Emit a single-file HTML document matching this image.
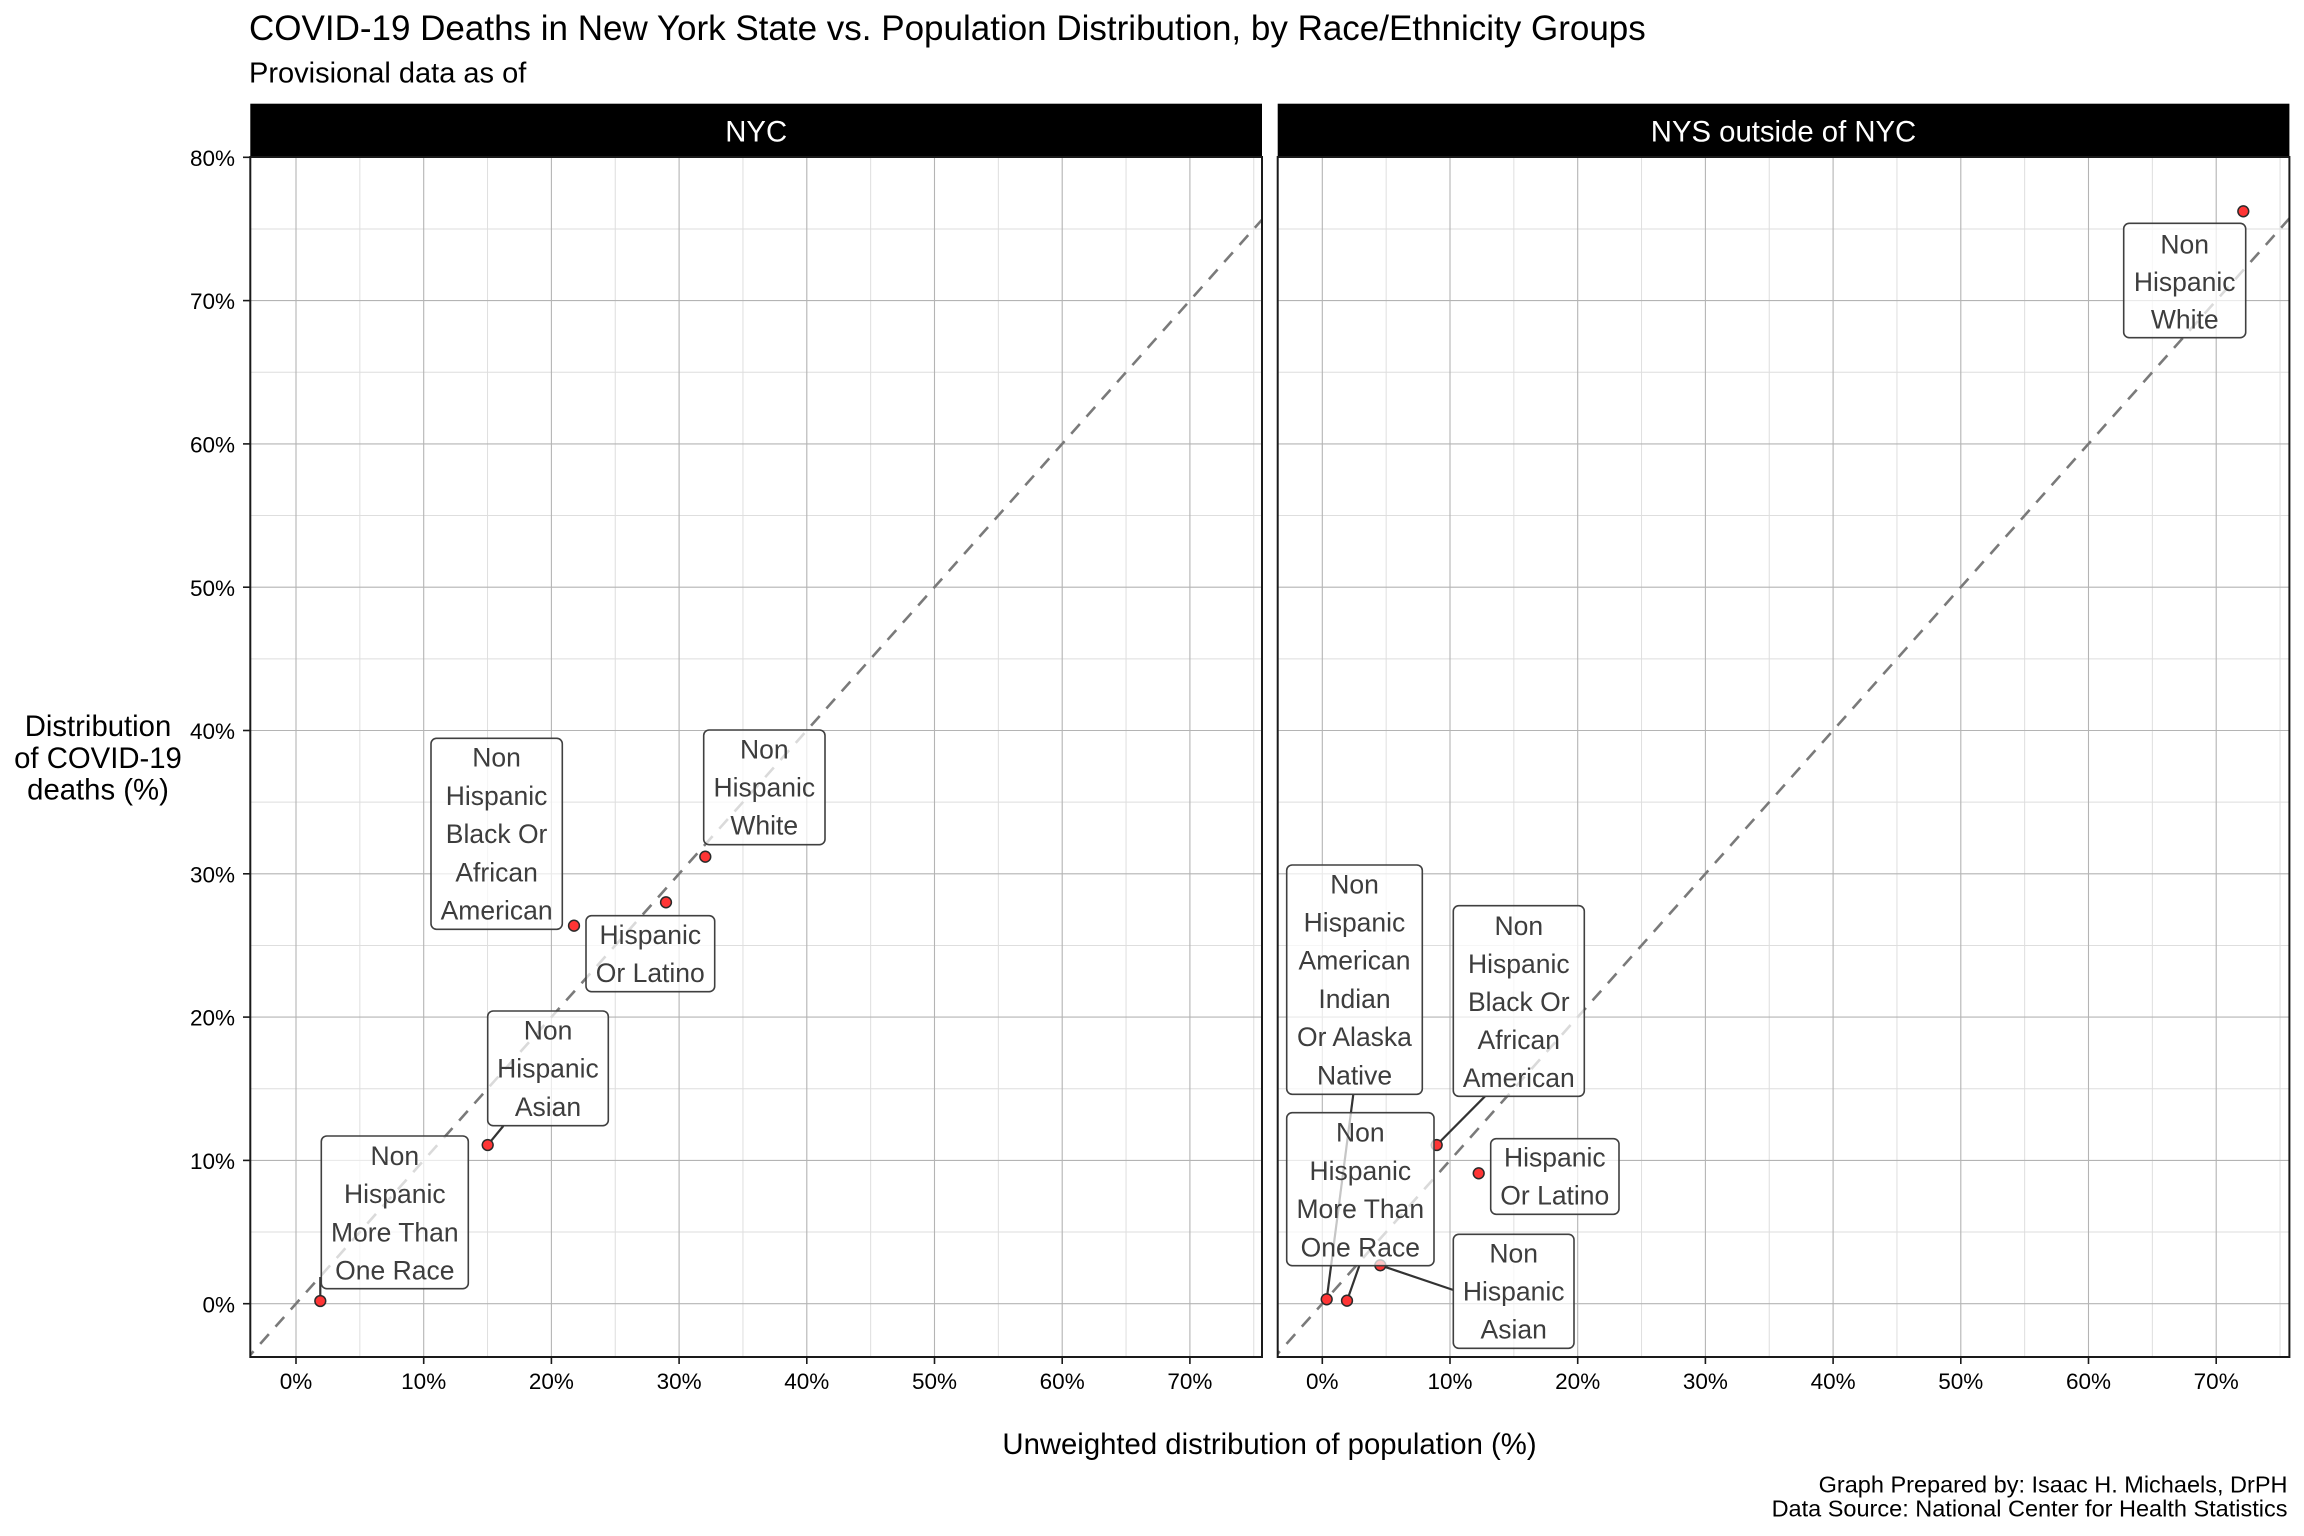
<!DOCTYPE html>
<html>
<head>
<meta charset="utf-8">
<style>
  html, body { margin: 0; padding: 0; background: #ffffff; }
  svg { display: block; }
  text { font-family: "Liberation Sans", Arial, Helvetica, sans-serif; }
  .lbl { font-size: 26.5px; fill: #3d3d3d; text-anchor: middle; }
  .box { fill: #ffffff; fill-opacity: 0.72; stroke: #404040; stroke-width: 1.6; }
  .seg { stroke: #333333; stroke-width: 2.2; fill: none; }
  .pt { fill: #ff3535; stroke: #2a2a2a; stroke-width: 1.5; }
  .gmaj { stroke: #b4b4b4; stroke-width: 1.1; }
  .gmin { stroke: #dedede; stroke-width: 1; }
  .ytick { font-size: 22.5px; fill: #000; text-anchor: end; }
  .xtick { font-size: 22.5px; fill: #000; text-anchor: middle; }
</style>
</head>
<body>
<svg width="2304" height="1536" viewBox="0 0 2304 1536" xmlns="http://www.w3.org/2000/svg">
  <rect x="0" y="0" width="2304" height="1536" fill="#ffffff"/>
  <defs>
    <clipPath id="cl"><rect x="250.3" y="157" width="1011.7" height="1200"/></clipPath>
    <clipPath id="cr"><rect x="1277.7" y="157" width="1011.7" height="1200"/></clipPath>
  </defs>

  <!-- Title / subtitle -->
  <text x="249" y="40" font-size="35px" fill="#000">COVID-19 Deaths in New York State vs. Population Distribution, by Race/Ethnicity Groups</text>
  <text x="249" y="82.7" font-size="29px" fill="#000">Provisional data as of</text>

  <!-- Strips -->
  <rect x="250.3" y="103.7" width="1011.7" height="53.3" fill="#000"/>
  <rect x="1277.7" y="103.7" width="1011.7" height="53.3" fill="#000"/>
  <text x="756.2" y="141.7" font-size="29.3px" fill="#fff" text-anchor="middle">NYC</text>
  <text x="1783.5" y="141.7" font-size="29.3px" fill="#fff" text-anchor="middle">NYS outside of NYC</text>

  <!-- LEFT PANEL -->
  <g clip-path="url(#cl)">
    <g class="gmin">
      <line x1="359.85" y1="157" x2="359.85" y2="1357"/>
      <line x1="487.55" y1="157" x2="487.55" y2="1357"/>
      <line x1="615.25" y1="157" x2="615.25" y2="1357"/>
      <line x1="742.95" y1="157" x2="742.95" y2="1357"/>
      <line x1="870.65" y1="157" x2="870.65" y2="1357"/>
      <line x1="998.35" y1="157" x2="998.35" y2="1357"/>
      <line x1="1126.05" y1="157" x2="1126.05" y2="1357"/>
      <line x1="1253.75" y1="157" x2="1253.75" y2="1357"/>
      <line x1="250" y1="1232.05" x2="1262" y2="1232.05"/>
      <line x1="250" y1="1088.75" x2="1262" y2="1088.75"/>
      <line x1="250" y1="945.45" x2="1262" y2="945.45"/>
      <line x1="250" y1="802.15" x2="1262" y2="802.15"/>
      <line x1="250" y1="658.85" x2="1262" y2="658.85"/>
      <line x1="250" y1="515.55" x2="1262" y2="515.55"/>
      <line x1="250" y1="372.25" x2="1262" y2="372.25"/>
      <line x1="250" y1="228.95" x2="1262" y2="228.95"/>
    </g>
    <g class="gmaj">
      <line x1="296" y1="157" x2="296" y2="1357"/>
      <line x1="423.7" y1="157" x2="423.7" y2="1357"/>
      <line x1="551.4" y1="157" x2="551.4" y2="1357"/>
      <line x1="679.1" y1="157" x2="679.1" y2="1357"/>
      <line x1="806.8" y1="157" x2="806.8" y2="1357"/>
      <line x1="934.5" y1="157" x2="934.5" y2="1357"/>
      <line x1="1062.2" y1="157" x2="1062.2" y2="1357"/>
      <line x1="1189.9" y1="157" x2="1189.9" y2="1357"/>
      <line x1="250" y1="1303.7" x2="1262" y2="1303.7"/>
      <line x1="250" y1="1160.4" x2="1262" y2="1160.4"/>
      <line x1="250" y1="1017.1" x2="1262" y2="1017.1"/>
      <line x1="250" y1="873.8" x2="1262" y2="873.8"/>
      <line x1="250" y1="730.5" x2="1262" y2="730.5"/>
      <line x1="250" y1="587.2" x2="1262" y2="587.2"/>
      <line x1="250" y1="443.9" x2="1262" y2="443.9"/>
      <line x1="250" y1="300.6" x2="1262" y2="300.6"/>
      <line x1="250" y1="157.3" x2="1262" y2="157.3"/>
    </g>
    <line x1="244.9" y1="1361" x2="1266.5" y2="214.6" stroke="#7a7a7a" stroke-width="2.6" stroke-dasharray="13 10"/>

    <line class="seg" x1="487.7" y1="1145" x2="503.3" y2="1126"/>
    <line class="seg" x1="320.3" y1="1301" x2="320.3" y2="1277"/>

    <circle class="pt" cx="574" cy="925.7" r="5.4"/>
    <circle class="pt" cx="666" cy="902.3" r="5.4"/>
    <circle class="pt" cx="705.3" cy="856.7" r="5.4"/>
    <circle class="pt" cx="487.7" cy="1145" r="5.4"/>
    <circle class="pt" cx="320.3" cy="1301" r="5.4"/>

    <rect class="box" x="431" y="738.3" width="131.3" height="191" rx="5.5"/>
    <text class="lbl" x="496.6" y="766.7">Non</text>
    <text class="lbl" x="496.6" y="804.9">Hispanic</text>
    <text class="lbl" x="496.6" y="843.1">Black Or</text>
    <text class="lbl" x="496.6" y="881.3">African</text>
    <text class="lbl" x="496.6" y="919.4">American</text>

    <rect class="box" x="586" y="915.7" width="128.7" height="76" rx="5.5"/>
    <text class="lbl" x="650.3" y="944">Hispanic</text>
    <text class="lbl" x="650.3" y="982">Or Latino</text>

    <rect class="box" x="703.7" y="730" width="121.3" height="114.7" rx="5.5"/>
    <text class="lbl" x="764.3" y="758.3">Non</text>
    <text class="lbl" x="764.3" y="796.5">Hispanic</text>
    <text class="lbl" x="764.3" y="834.6">White</text>

    <rect class="box" x="487.7" y="1011" width="120.6" height="114.7" rx="5.5"/>
    <text class="lbl" x="548" y="1039.3">Non</text>
    <text class="lbl" x="548" y="1077.5">Hispanic</text>
    <text class="lbl" x="548" y="1115.8">Asian</text>

    <rect class="box" x="321.3" y="1136" width="147" height="152.7" rx="5.5"/>
    <text class="lbl" x="394.8" y="1165">Non</text>
    <text class="lbl" x="394.8" y="1203.2">Hispanic</text>
    <text class="lbl" x="394.8" y="1241.4">More Than</text>
    <text class="lbl" x="394.8" y="1279.5">One Race</text>
  </g>
  <rect x="250.3" y="157" width="1011.7" height="1200" fill="none" stroke="#1a1a1a" stroke-width="2"/>

  <!-- RIGHT PANEL -->
  <g clip-path="url(#cr)">
    <g class="gmin">
      <line x1="1386.15" y1="157" x2="1386.15" y2="1357"/>
      <line x1="1513.85" y1="157" x2="1513.85" y2="1357"/>
      <line x1="1641.55" y1="157" x2="1641.55" y2="1357"/>
      <line x1="1769.25" y1="157" x2="1769.25" y2="1357"/>
      <line x1="1896.95" y1="157" x2="1896.95" y2="1357"/>
      <line x1="2024.65" y1="157" x2="2024.65" y2="1357"/>
      <line x1="2152.35" y1="157" x2="2152.35" y2="1357"/>
      <line x1="2280.05" y1="157" x2="2280.05" y2="1357"/>
      <line x1="1277" y1="1232.05" x2="2290" y2="1232.05"/>
      <line x1="1277" y1="1088.75" x2="2290" y2="1088.75"/>
      <line x1="1277" y1="945.45" x2="2290" y2="945.45"/>
      <line x1="1277" y1="802.15" x2="2290" y2="802.15"/>
      <line x1="1277" y1="658.85" x2="2290" y2="658.85"/>
      <line x1="1277" y1="515.55" x2="2290" y2="515.55"/>
      <line x1="1277" y1="372.25" x2="2290" y2="372.25"/>
      <line x1="1277" y1="228.95" x2="2290" y2="228.95"/>
    </g>
    <g class="gmaj">
      <line x1="1322.3" y1="157" x2="1322.3" y2="1357"/>
      <line x1="1450" y1="157" x2="1450" y2="1357"/>
      <line x1="1577.7" y1="157" x2="1577.7" y2="1357"/>
      <line x1="1705.4" y1="157" x2="1705.4" y2="1357"/>
      <line x1="1833.1" y1="157" x2="1833.1" y2="1357"/>
      <line x1="1960.8" y1="157" x2="1960.8" y2="1357"/>
      <line x1="2088.5" y1="157" x2="2088.5" y2="1357"/>
      <line x1="2216.2" y1="157" x2="2216.2" y2="1357"/>
      <line x1="1277" y1="1303.7" x2="2290" y2="1303.7"/>
      <line x1="1277" y1="1160.4" x2="2290" y2="1160.4"/>
      <line x1="1277" y1="1017.1" x2="2290" y2="1017.1"/>
      <line x1="1277" y1="873.8" x2="2290" y2="873.8"/>
      <line x1="1277" y1="730.5" x2="2290" y2="730.5"/>
      <line x1="1277" y1="587.2" x2="2290" y2="587.2"/>
      <line x1="1277" y1="443.9" x2="2290" y2="443.9"/>
      <line x1="1277" y1="300.6" x2="2290" y2="300.6"/>
      <line x1="1277" y1="157.3" x2="2290" y2="157.3"/>
    </g>
    <line x1="1271.2" y1="1361" x2="2292.8" y2="214.6" stroke="#7a7a7a" stroke-width="2.6" stroke-dasharray="13 10"/>

    <line class="seg" x1="1326.7" y1="1299.3" x2="1353.3" y2="1094.3"/>
    <line class="seg" x1="1347" y1="1300.7" x2="1359.3" y2="1265.7"/>
    <line class="seg" x1="1436.7" y1="1145" x2="1485" y2="1096.3"/>
    <line class="seg" x1="1380.3" y1="1265.3" x2="1453.3" y2="1290"/>

    <circle class="pt" cx="1326.7" cy="1299.3" r="5.4"/>
    <circle class="pt" cx="1347" cy="1300.7" r="5.4"/>
    <circle class="pt" cx="1436.7" cy="1145" r="5.4"/>
    <circle class="pt" cx="1478.7" cy="1173.3" r="5.4"/>
    <circle class="pt" cx="1380.3" cy="1265.3" r="5.4"/>
    <circle class="pt" cx="2243.3" cy="211.3" r="5.4"/>

    <rect class="box" x="1286.7" y="865" width="135.6" height="229.3" rx="5.5"/>
    <text class="lbl" x="1354.5" y="893.3">Non</text>
    <text class="lbl" x="1354.5" y="931.5">Hispanic</text>
    <text class="lbl" x="1354.5" y="969.7">American</text>
    <text class="lbl" x="1354.5" y="1007.9">Indian</text>
    <text class="lbl" x="1354.5" y="1046.1">Or Alaska</text>
    <text class="lbl" x="1354.5" y="1084.3">Native</text>

    <rect class="box" x="1286.7" y="1112.7" width="147.3" height="153" rx="5.5"/>
    <text class="lbl" x="1360.3" y="1141.7">Non</text>
    <text class="lbl" x="1360.3" y="1179.9">Hispanic</text>
    <text class="lbl" x="1360.3" y="1218.1">More Than</text>
    <text class="lbl" x="1360.3" y="1256.3">One Race</text>

    <rect class="box" x="1453.3" y="905.7" width="131" height="190.6" rx="5.5"/>
    <text class="lbl" x="1518.8" y="935">Non</text>
    <text class="lbl" x="1518.8" y="973">Hispanic</text>
    <text class="lbl" x="1518.8" y="1011">Black Or</text>
    <text class="lbl" x="1518.8" y="1049">African</text>
    <text class="lbl" x="1518.8" y="1087">American</text>

    <rect class="box" x="1490.7" y="1138.7" width="128.3" height="75.6" rx="5.5"/>
    <text class="lbl" x="1554.8" y="1166.7">Hispanic</text>
    <text class="lbl" x="1554.8" y="1204.5">Or Latino</text>

    <rect class="box" x="1453.3" y="1234.3" width="120.7" height="114" rx="5.5"/>
    <text class="lbl" x="1513.7" y="1262.7">Non</text>
    <text class="lbl" x="1513.7" y="1300.7">Hispanic</text>
    <text class="lbl" x="1513.7" y="1338.6">Asian</text>

    <rect class="box" x="2123.7" y="223.3" width="122" height="114.4" rx="5.5"/>
    <text class="lbl" x="2184.7" y="253.3">Non</text>
    <text class="lbl" x="2184.7" y="291">Hispanic</text>
    <text class="lbl" x="2184.7" y="328.5">White</text>
  </g>
  <rect x="1277.7" y="157" width="1011.7" height="1200" fill="none" stroke="#1a1a1a" stroke-width="2"/>

  <!-- Y axis ticks & labels -->
  <g stroke="#1a1a1a" stroke-width="1.6">
    <line x1="243" y1="1303.7" x2="250" y2="1303.7"/>
    <line x1="243" y1="1160.4" x2="250" y2="1160.4"/>
    <line x1="243" y1="1017.1" x2="250" y2="1017.1"/>
    <line x1="243" y1="873.8" x2="250" y2="873.8"/>
    <line x1="243" y1="730.5" x2="250" y2="730.5"/>
    <line x1="243" y1="587.2" x2="250" y2="587.2"/>
    <line x1="243" y1="443.9" x2="250" y2="443.9"/>
    <line x1="243" y1="300.6" x2="250" y2="300.6"/>
    <line x1="243" y1="157.3" x2="250" y2="157.3"/>
  </g>
  <text class="ytick" x="235" y="1312.3">0%</text>
  <text class="ytick" x="235" y="1169">10%</text>
  <text class="ytick" x="235" y="1025.7">20%</text>
  <text class="ytick" x="235" y="882.4">30%</text>
  <text class="ytick" x="235" y="739.1">40%</text>
  <text class="ytick" x="235" y="595.8">50%</text>
  <text class="ytick" x="235" y="452.5">60%</text>
  <text class="ytick" x="235" y="309.2">70%</text>
  <text class="ytick" x="235" y="165.9">80%</text>

  <!-- X axis ticks & labels -->
  <g stroke="#1a1a1a" stroke-width="1.6">
    <line x1="296" y1="1357" x2="296" y2="1364"/>
    <line x1="423.7" y1="1357" x2="423.7" y2="1364"/>
    <line x1="551.4" y1="1357" x2="551.4" y2="1364"/>
    <line x1="679.1" y1="1357" x2="679.1" y2="1364"/>
    <line x1="806.8" y1="1357" x2="806.8" y2="1364"/>
    <line x1="934.5" y1="1357" x2="934.5" y2="1364"/>
    <line x1="1062.2" y1="1357" x2="1062.2" y2="1364"/>
    <line x1="1189.9" y1="1357" x2="1189.9" y2="1364"/>
    <line x1="1322.3" y1="1357" x2="1322.3" y2="1364"/>
    <line x1="1450" y1="1357" x2="1450" y2="1364"/>
    <line x1="1577.7" y1="1357" x2="1577.7" y2="1364"/>
    <line x1="1705.4" y1="1357" x2="1705.4" y2="1364"/>
    <line x1="1833.1" y1="1357" x2="1833.1" y2="1364"/>
    <line x1="1960.8" y1="1357" x2="1960.8" y2="1364"/>
    <line x1="2088.5" y1="1357" x2="2088.5" y2="1364"/>
    <line x1="2216.2" y1="1357" x2="2216.2" y2="1364"/>
  </g>
  <text class="xtick" x="296" y="1389">0%</text>
  <text class="xtick" x="423.7" y="1389">10%</text>
  <text class="xtick" x="551.4" y="1389">20%</text>
  <text class="xtick" x="679.1" y="1389">30%</text>
  <text class="xtick" x="806.8" y="1389">40%</text>
  <text class="xtick" x="934.5" y="1389">50%</text>
  <text class="xtick" x="1062.2" y="1389">60%</text>
  <text class="xtick" x="1189.9" y="1389">70%</text>
  <text class="xtick" x="1322.3" y="1389">0%</text>
  <text class="xtick" x="1450" y="1389">10%</text>
  <text class="xtick" x="1577.7" y="1389">20%</text>
  <text class="xtick" x="1705.4" y="1389">30%</text>
  <text class="xtick" x="1833.1" y="1389">40%</text>
  <text class="xtick" x="1960.8" y="1389">50%</text>
  <text class="xtick" x="2088.5" y="1389">60%</text>
  <text class="xtick" x="2216.2" y="1389">70%</text>

  <!-- Axis titles -->
  <text x="1269.5" y="1454" font-size="29.3px" fill="#000" text-anchor="middle">Unweighted distribution of population (%)</text>
  <text x="98" y="736" font-size="29.3px" fill="#000" text-anchor="middle">Distribution</text>
  <text x="98" y="768" font-size="29.3px" fill="#000" text-anchor="middle">of COVID-19</text>
  <text x="98" y="799.5" font-size="29.3px" fill="#000" text-anchor="middle">deaths (%)</text>

  <!-- Caption -->
  <text x="2287.5" y="1492.7" font-size="23.5px" fill="#000" text-anchor="end">Graph Prepared by: Isaac H. Michaels, DrPH</text>
  <text x="2287.5" y="1516.7" font-size="23.5px" fill="#000" text-anchor="end">Data Source: National Center for Health Statistics</text>
</svg>
</body>
</html>
